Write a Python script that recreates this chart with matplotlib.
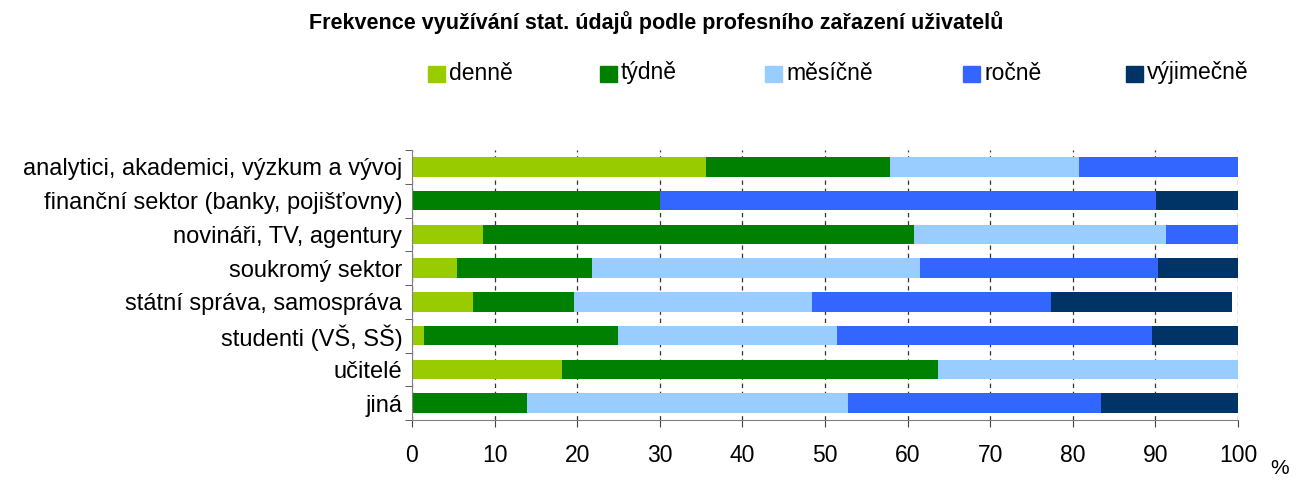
import numpy as np
import matplotlib
matplotlib.use("Agg")
import matplotlib.pyplot as plt
from matplotlib.patches import Rectangle

plt.rcParams['font.family'] = ['Liberation Sans', 'DejaVu Sans']

categories = ['analytici, akademici, výzkum a vývoj',
              'finanční sektor (banky, pojišťovny)',
              'novináři, TV, agentury',
              'soukromý sektor',
              'státní správa, samospráva',
              'studenti (VŠ, SŠ)',
              'učitelé',
              'jiná']
series_names = ['denně', 'týdně', 'měsíčně', 'ročně', 'výjimečně']
denne = [35.6, 0.0, 8.6, 5.4, 7.4, 1.5, 18.2, 0.0]
tydne = [22.3, 30.0, 52.2, 16.4, 12.2, 23.4, 45.5, 13.9]
mesicne = [22.9, 0.0, 30.5, 39.7, 28.8, 26.5, 36.3, 38.9]
rocne = [19.2, 60.1, 8.7, 28.8, 29.0, 38.2, 0.0, 30.6]
vyjimecne = [0.0, 9.9, 0.0, 9.7, 21.9, 10.4, 0.0, 16.6]
colors = ['#99CC00', '#008000', '#99CCFF', '#3366FF', '#003366']

W, H = 1297, 480
fig = plt.figure(figsize=(W / 100, H / 100), dpi=100)
ax = fig.add_axes([412 / W, 1 - 420 / H, 826 / W, 270 / H])

y = np.arange(len(categories))
left = np.zeros(len(categories))
for vals, c in zip([denne, tydne, mesicne, rocne, vyjimecne], colors):
    ax.barh(y, vals, left=left, height=0.58, color=c, zorder=2)
    left += np.array(vals)

ax.set_xlim(0, 100)
ax.set_ylim(len(categories) - 0.5, -0.5)
ax.set_xticks(np.arange(0, 101, 10))
ax.set_yticks(y)
ax.set_yticklabels(categories, fontsize=17)
ax.set_yticks(np.arange(-0.5, len(categories), 1), minor=True)
ax.tick_params(axis='y', which='major', length=0, pad=7)
ax.tick_params(axis='y', which='minor', length=5, color='#444444')
ax.tick_params(axis='x', length=5, color='#444444', labelsize=16.5, pad=12)
ax.xaxis.grid(True, linestyle=(0, (3.5, 3)), color='#333333', linewidth=0.9, zorder=0)
ax.set_axisbelow(True)
for s in ['top', 'right']:
    ax.spines[s].set_visible(False)
for s in ['left', 'bottom']:
    ax.spines[s].set_color('#808080')

fig.text(1280 / W, 1 - 468 / H, '%', fontsize=15, ha='center', va='center')
fig.text(656 / W, 1 - 23 / H, 'Frekvence využívání stat. údajů podle profesního zařazení uživatelů',
         fontsize=15.5, fontweight='bold', ha='center', va='center')

# legend
leg_x = [428, 600, 765, 963, 1126]
for lx, name, c in zip(leg_x, series_names, colors):
    fig.add_artist(Rectangle((lx / W, 1 - 82 / H), 17 / W, 16 / H,
                             transform=fig.transFigure, color=c))
    fig.text((lx + 21) / W, 1 - 73 / H, name, fontsize=16.5, ha='left', va='center')

fig.savefig('out.png', dpi=100)
